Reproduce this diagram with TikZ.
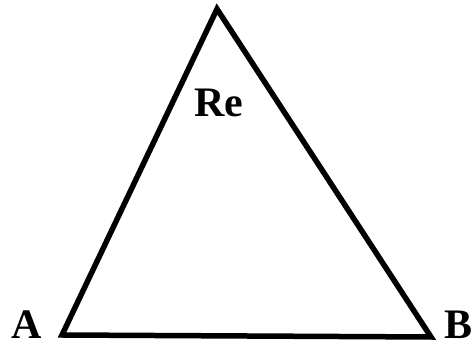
\documentclass[tikz,border=0pt]{standalone}
\usepackage{fontspec}
\setmainfont{Liberation Serif}
\begin{document}
\begin{tikzpicture}[x=1pt,y=1pt,
  edge/.style={line width=5.5pt,line join=miter,black},
  lbl/.style={font=\fontsize{42}{48}\selectfont\bfseries,inner sep=0pt}]
\useasboundingbox (0,0) rectangle (472,353);
\coordinate (vA) at (62,18);
\coordinate (vB) at (431,16);
\coordinate (vC) at (217,344);
\draw[edge] (vA) -- (vB) -- (vC) -- cycle;
\node[lbl] (lA) at (27,28) {A};
\node[lbl] (lB) at (459,28) {B};
\node[lbl] (lRe) at (219,250) {Re};
\end{tikzpicture}
\end{document}
